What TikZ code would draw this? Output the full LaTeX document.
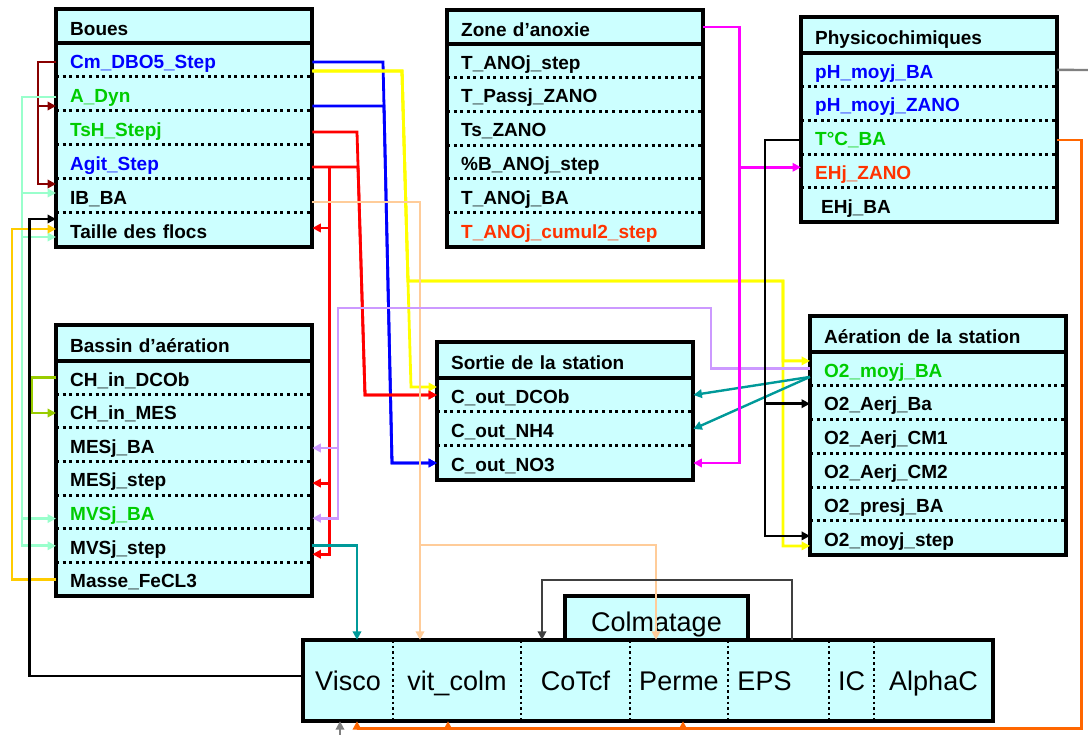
\documentclass[tikz,border=0pt]{standalone}
\usepackage{fontspec}
\setmainfont{Liberation Sans}
\usetikzlibrary{arrows.meta}
\definecolor{cellfill}{HTML}{CCFFFF}
\definecolor{txtblue}{HTML}{0000FF}
\definecolor{txtgreen}{HTML}{00CC00}
\definecolor{txtred}{HTML}{FF3300}
\definecolor{wblue}{HTML}{0000FF}
\definecolor{wyellow}{HTML}{FFFF00}
\definecolor{wred}{HTML}{FF0000}
\definecolor{wmaroon}{HTML}{880000}
\definecolor{wmint}{HTML}{99FFCC}
\definecolor{wgold}{HTML}{FFCC00}
\definecolor{wolive}{HTML}{99CC00}
\definecolor{wpeach}{HTML}{FFCC99}
\definecolor{wteal}{HTML}{009999}
\definecolor{wlilac}{HTML}{CC99FF}
\definecolor{wmagenta}{HTML}{FF00FF}
\definecolor{worange}{HTML}{FF6600}
\definecolor{wgray}{HTML}{808080}
\definecolor{wdark}{HTML}{404040}
\newcommand{\fieldfont}{\bfseries\fontsize{19}{22}\selectfont}
\newcommand{\colmfont}{\fontsize{27}{31}\selectfont}
\tikzset{
  tbl/.style   = {draw=black, line width=3.3pt, fill=cellfill},
  rule/.style  = {line width=3.3pt},
  sep/.style   = {line width=3pt, dash pattern=on 3pt off 3.6pt},
  vsep/.style  = {line width=2.4pt, dash pattern=on 2.6pt off 3pt},
  field/.style = {anchor=west, text width=228pt, inner xsep=14pt, inner ysep=0pt,
                  align=left, minimum height=34pt, text height=16.6pt, text depth=0pt,
                  font=\fieldfont},
  head/.style  = {field, text height=19.6pt},
  cell/.style  = {minimum height=81pt, inner sep=0pt, text height=23pt, text depth=3pt,
                  font=\colmfont},
  wire/.style  = {line width=2.8pt},
  arr/.style   = {wire, -{Triangle[length=8.5pt,width=8.5pt]}},
}

\begin{document}
\begin{tikzpicture}[x=1pt, y=-1pt]
  \useasboundingbox (0,0) rectangle (1088,735);

  % Boues
  \draw[tbl] (56,9) rectangle (312,247);
  \draw[rule] (56,43) -- (312,43);
  \node[head] (boues) at (56,26) {Boues};
  \foreach \n/\t/\c [count=\i] in {cm/Cm\_DBO5\_Step/txtblue, adyn/A\_Dyn/txtgreen,
      tsh/TsH\_Stepj/txtgreen, agit/Agit\_Step/txtblue, ibba/IB\_BA/black,
      taille/Taille des flocs/black}{
    \node[field, text=\c] (\n) at (56,{43+34*\i-17}) {\t};
    \ifnum\i>1 \draw[sep] (\n.north west) -- (\n.north east); \fi
  }

  % Zone d'anoxie
  \draw[tbl] (447,10) rectangle (703,247);
  \draw[rule] (447,44) -- (703,44);
  \node[head] (zone) at (447,27) {Zone d’anoxie};
  \foreach \n/\t/\c [count=\i] in {tanostep/T\_ANOj\_step/black, tpass/T\_Passj\_ZANO/black,
      tszano/Ts\_ZANO/black, pcb/\%B\_ANOj\_step/black, tanoba/T\_ANOj\_BA/black,
      tcumul/T\_ANOj\_cumul2\_step/txtred}{
    \node[field, text=\c, minimum height=33.8pt] (\n) at (447,{44+33.8*\i-16.9}) {\t};
    \ifnum\i>1 \draw[sep] (\n.north west) -- (\n.north east); \fi
  }

  % Physicochimiques
  \draw[tbl] (801,17) rectangle (1057,222);
  \draw[rule] (801,53) -- (1057,53);
  \node[head] (physico) at (801,35) {Physicochimiques};
  \foreach \n/\t/\c [count=\i] in {phba/pH\_moyj\_BA/txtblue, phzano/pH\_moyj\_ZANO/txtblue,
      tcba/T°C\_BA/txtgreen, ehzano/EHj\_ZANO/txtred, ehba/\hspace*{6pt}EHj\_BA/black}{
    \node[field, text=\c, minimum height=33.8pt] (\n) at (801,{53+33.8*\i-16.9}) {\t};
    \ifnum\i>1 \draw[sep] (\n.north west) -- (\n.north east); \fi
  }

  % Sortie de la station
  \draw[tbl] (437,342) rectangle (693,480);
  \draw[rule] (437,378) -- (693,378);
  \node[head] (sortie) at (437,360) {Sortie de la station};
  \foreach \n/\t [count=\i] in {dcob/C\_out\_DCOb, nh4/C\_out\_NH4, no3/C\_out\_NO3}{
    \node[field] (\n) at (437,{378+34*\i-17}) {\t};
    \ifnum\i>1 \draw[sep] (\n.north west) -- (\n.north east); \fi
  }

  % Aeration de la station
  \draw[tbl] (810,316) rectangle (1066,555);
  \draw[rule] (810,352) -- (1066,352);
  \node[head] (aeration) at (810,334) {Aération de la station};
  \foreach \n/\t/\c [count=\i] in {o2ba/O2\_moyj\_BA/txtgreen, aerba/O2\_Aerj\_Ba/black,
      cma/O2\_Aerj\_CM1/black, cmb/O2\_Aerj\_CM2/black, presba/O2\_presj\_BA/black,
      o2step/O2\_moyj\_step/black}{
    \node[field, text=\c, minimum height=33.8pt] (\n) at (810,{352+33.8*\i-16.9}) {\t};
    \ifnum\i>1 \draw[sep] (\n.north west) -- (\n.north east); \fi
  }

  % Bassin d'aeration
  \draw[tbl] (56,325) rectangle (312,596);
  \draw[rule] (56,361) -- (312,361);
  \node[head] (bassin) at (56,343) {Bassin d’aération};
  \foreach \n/\t/\c [count=\i] in {chdcob/CH\_in\_DCOb/black, chmes/CH\_in\_MES/black,
      mesba/MESj\_BA/black, messtep/MESj\_step/black, mvsba/MVSj\_BA/txtgreen,
      mvsstep/MVSj\_step/black, masse/Masse\_FeCL3/black}{
    \node[field, text=\c, minimum height=33.6pt] (\n) at (56,{361+33.6*\i-16.8}) {\t};
    \ifnum\i>1 \draw[sep] (\n.north west) -- (\n.north east); \fi
  }

  % Colmatage
  \node[tbl, minimum width=183pt, minimum height=44pt, inner sep=0pt, font=\colmfont,
    text height=26pt, text depth=0pt] (colm) at (656.5,618) {Colmatage};
  \draw[tbl] (303,640) rectangle (993,721);
  \foreach \n/\t/\a/\b in {visco/Visco/303/393, vitcolm/vit\_colm/393/521,
      cotcf/CoTcf/521/630, perme/Perme/630/728, eps/EPS\hspace*{28pt}/728/829, ic/IC/829/874,
      alphac/AlphaC/874/993}{
    \node[cell, minimum width={\b-\a}] (\n) at ({(\a+\b)/2},680.5) {\t};
  }
  \foreach \x in {393,521,630,728,829,874} \draw[vsep] (\x,640) -- (\x,721);

  % left side links
  \draw[arr, wmaroon] ([yshift=-2pt]cm.west) -- ++(-18,0) |- ([yshift=-12pt]adyn.west);
  \draw[arr, wmaroon] ([yshift=-2pt]cm.west) -- ++(-18,0) |- ([yshift=12pt]ibba.west);
  \draw[arr, wmint] ([yshift=-3pt]adyn.west) -- ++(-34,0) |- ([yshift=3pt]ibba.west);
  \draw[arr, wmint] ([yshift=-3pt]adyn.west) -- ++(-34,0) |- ([yshift=-7pt]taille.west);
  \draw[arr, wmint] ([yshift=-3pt]adyn.west) -- ++(-34,0) |- ([yshift=-6.4pt]mvsba.west);
  \draw[arr, wmint] ([yshift=-3pt]adyn.west) -- ++(-34,0) |- (mvsstep.west);
  \draw[arr, wgold] (masse.west) -- ++(-44,0) |- ([yshift=1pt]taille.west);
  \draw[arr, wolive] (chdcob.west) -- ++(-24,0) |- ([yshift=-1.6pt]chmes.west);
  \draw[arr, black] ([yshift=4.5pt]visco.west) -- ++(-273,0) |- ([yshift=11pt]taille.west);

  % from Boues to the outlet
  \draw[arr, wblue] ([yshift=-2pt]cm.east) -- (383,62) -- (392,463) -- (no3.west);
  \draw[arr, wblue] ([yshift=-12pt]adyn.east) -- (384,106) -- (392,463) -- (no3.west);
  \draw[arr, wyellow] ([yshift=-11pt]cm.east) -- (402,71) -- (411,387) -- ([yshift=8pt]dcob.west);
  \draw[arr, wyellow] ([yshift=-11pt]cm.east) -- (402,71) -- (408,281) -- (783,281)
    |- ([yshift=8pt]o2ba.west);
  \draw[arr, wyellow] ([yshift=-11pt]cm.east) -- (402,71) -- (408,281) -- (783,281)
    |- ([yshift=-8pt]o2step.west);
  \draw[arr, wred] ([yshift=-4pt]tsh.east) -- (357,132) -- (365,395) -- (dcob.west);
  \draw[arr, wred] ([yshift=-5pt]agit.east) -- (358,167) -- (365,395) -- (dcob.west);
  \draw[arr, wred] ([yshift=-5pt]agit.east) -- ++(17,0) |- ([yshift=2pt]taille.east);
  \draw[arr, wred] ([yshift=-5pt]agit.east) -- ++(17,0) |- ([yshift=-4.5pt]messtep.east);
  \draw[arr, wred] ([yshift=-5pt]agit.east) -- ++(17,0) |- ([yshift=-8.4pt]mvsstep.east);
  \draw[arr, wpeach] ([yshift=-6pt]ibba.east) -| ([xshift=-37pt]vitcolm.north);
  \draw[arr, wpeach] ([yshift=-6pt]ibba.east) -| (420,545) -| ([xshift=-23pt]perme.north);
  \draw[arr, wteal] (mvsstep.east) -| ([xshift=9pt]visco.north);

  % aeration and anoxic zone links
  \draw[arr, wlilac] (o2ba.west) -- ++(-99,0) |- (338,308) |- ([yshift=-6pt]mvsba.east);
  \draw[arr, wlilac] (o2ba.west) -- ++(-99,0) |- (338,308) |- ([yshift=-3pt]mesba.east);
  \draw[arr, wteal, line width=2.4pt] ([yshift=-8pt]o2ba.west) -- (dcob.east);
  \draw[arr, wteal, line width=2.4pt] ([yshift=-8pt]o2ba.west) -- (nh4.east);
  \draw[arr, wmagenta] (zone.east) -- ++(36,0) |- (no3.east);
  \draw[arr, wmagenta] (zone.east) -- ++(36,0) |- ([yshift=4pt]ehzano.west);
  \draw[arr, black] ([yshift=-2.5pt]tcba.west) -- ++(-36,0) |- ([yshift=-1pt]aerba.west);
  \draw[arr, black] ([yshift=-2.5pt]tcba.west) -- ++(-36,0) |- ([yshift=2pt]o2step.west);

  % back to the clogging block
  \draw[arr, worange] ([yshift=-2.5pt]tcba.east) -- ++(24,0)
    |- ([xshift=9pt,yshift=-7pt]visco.south) -- ([xshift=9pt]visco.south);
  \draw[arr, worange] ([yshift=-2.5pt]tcba.east) -- ++(24,0)
    |- ([xshift=-9pt,yshift=-7pt]vitcolm.south) -- ([xshift=-9pt]vitcolm.south);
  \draw[arr, worange] ([yshift=-2.5pt]tcba.east) -- ++(24,0)
    |- ([xshift=4pt,yshift=-7pt]perme.south) -- ([xshift=4pt]perme.south);
  \draw[arr, wdark, line width=2pt] ([xshift=13.5pt]eps.north) -- ++(0,-60)
    -| ([xshift=-33.5pt]cotcf.north);
  \coordinate (rimph) at (1088,70);
  \coordinate (rimfoot) at (340,735);
  \draw[wire, wgray, line width=2.4pt] (phba.east) -- (rimph);
  \draw[arr, wgray, line width=2pt] (rimfoot) -- ([xshift=-8pt]visco.south);
\end{tikzpicture}
\end{document}
